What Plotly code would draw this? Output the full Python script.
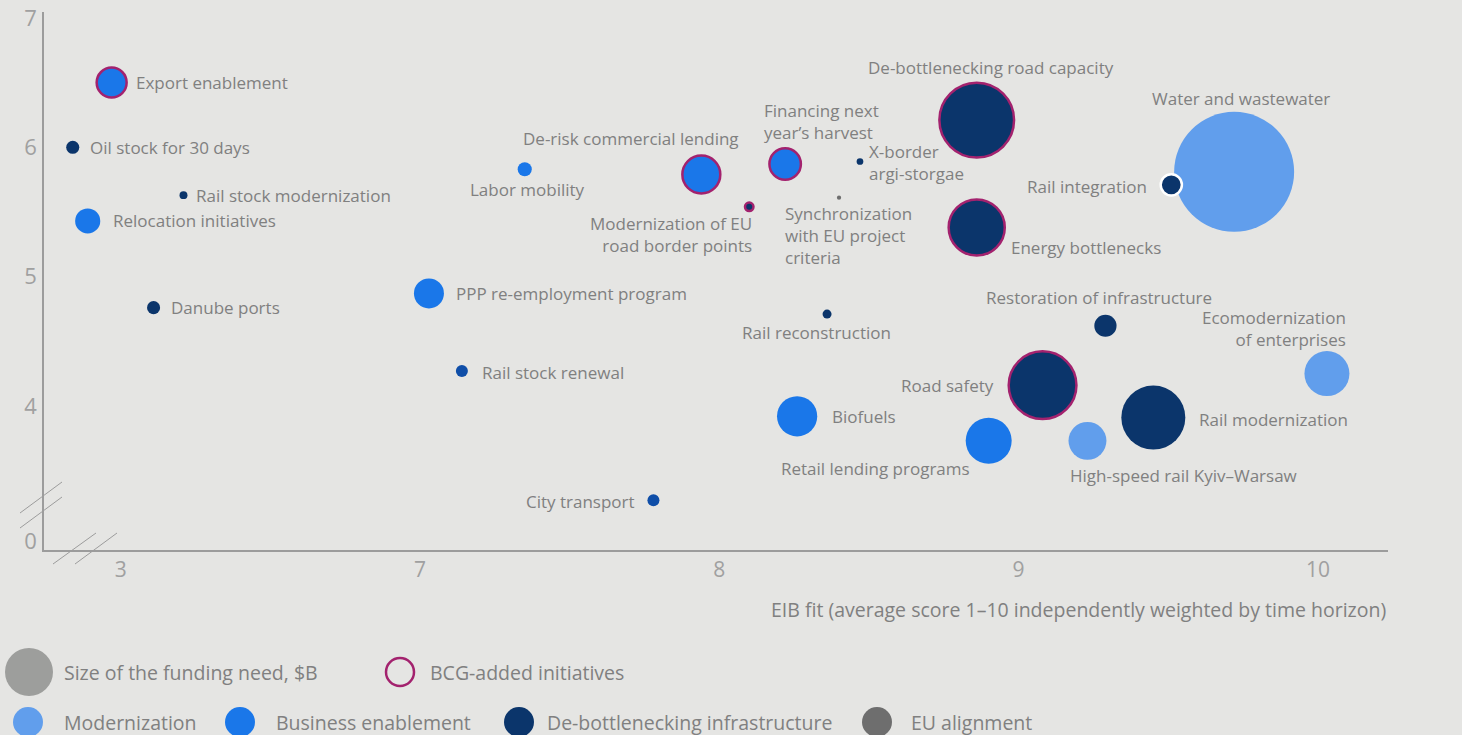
import math
import plotly.graph_objects as go

# ---------------- data ----------------
names = [
    "Water and wastewater", "Export enablement", "Oil stock for 30 days",
    "Rail stock modernization", "Relocation initiatives", "Danube ports",
    "PPP re-employment program", "Rail stock renewal", "Labor mobility",
    "De-risk commercial lending", "Modernization of EU<br>road border points",
    "Financing next<br>year’s harvest", "X-border<br>argi-storgae",
    "Synchronization<br>with EU project<br>criteria", "Rail reconstruction",
    "De-bottlenecking road capacity", "Energy bottlenecks", "Rail integration",
    "Procurement<br>guidelines", "Restoration of infrastructure",
    "Ecomodernization<br>of enterprises", "Road safety", "Biofuels",
    "Retail lending programs", "High-speed rail Kyiv–Warsaw",
    "Rail modernization", "City transport",
]
eib_fit = [9.72, 2.97, 2.84, 3.21, 2.89, 3.11, 7.03, 7.14, 7.35, 7.94, 8.10,
           8.22, 8.47, 8.40, 8.36, 8.86, 8.86, 9.51, 10.24, 9.29, 10.03, 9.08,
           8.26, 8.90, 9.23, 9.45, 7.78]
score = [5.81, 6.50, 6.00, 5.63, 5.43, 4.76, 4.87, 4.27, 5.83, 5.79, 5.54,
         5.87, 5.89, 5.61, 4.71, 6.21, 5.38, 5.71, 5.65, 4.62, 4.25, 4.16,
         3.92, 3.73, 3.73, 3.91, 3.27]
funding_bn = [16.0, 1.0, 0.19, 0.07, 0.7, 0.19, 1.0, 0.16, 0.22, 1.6, 0.08,
              1.1, 0.05, 0.02, 0.09, 6.2, 3.5, 0.5, 0.02, 0.55, 2.25, 5.1,
              1.8, 2.35, 1.6, 4.55, 0.16]
category = ["Modernization", "Business enablement", "De-bottlenecking infrastructure",
            "De-bottlenecking infrastructure", "Business enablement",
            "De-bottlenecking infrastructure", "Business enablement", "Transport renewal",
            "Business enablement", "Business enablement", "De-bottlenecking infrastructure",
            "Business enablement", "De-bottlenecking infrastructure", "EU alignment",
            "De-bottlenecking infrastructure", "De-bottlenecking infrastructure",
            "De-bottlenecking infrastructure", "De-bottlenecking infrastructure",
            "Modernization", "De-bottlenecking infrastructure", "Modernization",
            "De-bottlenecking infrastructure", "Business enablement",
            "Business enablement", "Modernization", "De-bottlenecking infrastructure",
            "Transport renewal"]
bcg_added = [False, True, False, False, False, False, False, False, False, True, True,
             True, False, False, False, True, True, False, False, False, False, True,
             False, False, False, False, False]
highlight_white = ["Rail integration"]

x_ticks = [3, 7, 8, 9, 10]
y_ticks = [0, 4, 5, 6, 7]
legend_categories = ["Modernization", "Business enablement",
                     "De-bottlenecking infrastructure", "EU alignment"]
x_title = "EIB fit (average score 1–10 independently weighted by time horizon)"

# ---------------- styles ----------------
BG = "#e5e5e3"
TXT = "#808080"
AX = "#9c9c9c"
PURPLE = "#a3226e"
COLORS = {
    "Modernization": "#619eec",
    "Business enablement": "#1a77e9",
    "De-bottlenecking infrastructure": "#0b356b",
    "EU alignment": "#6e6e6e",
    "Transport renewal": "#0f4ea8",
}
FONT = "Open Sans"
SCALE = 30.0  # px diameter per sqrt($B)


def xdisp(v):
    # broken x axis: values below 5 are shifted so that 3 sits one unit left of 7
    return v + 3 if v < 5 else v


def ydisp(v):
    # broken y axis: 0 sits just below 3
    return 2.956 if v == 0 else v


# label placement: (xanchor, xshift, yshift, align)
place = {
    "Water and wastewater": ("center", 7, 73, "center"),
    "Export enablement": ("left", 22, 0, "left"),
    "Oil stock for 30 days": ("left", 15, 0, "left"),
    "Rail stock modernization": ("left", 11, 0, "left"),
    "Relocation initiatives": ("left", 23, 0, "left"),
    "Danube ports": ("left", 15, 0, "left"),
    "PPP re-employment program": ("left", 25, 0, "left"),
    "Rail stock renewal": ("left", 18, -1, "left"),
    "Labor mobility": ("center", 3, -20, "center"),
    "De-risk commercial lending": ("right", 40, 36, "right"),
    "Modernization of EU<br>road border points": ("right", 5, -28, "right"),
    "Financing next<br>year’s harvest": ("left", -23, 43, "left"),
    "X-border<br>argi-storgae": ("left", 7, -1, "left"),
    "Synchronization<br>with EU project<br>criteria": ("left", -56, -38, "left"),
    "Rail reconstruction": ("center", -11, -18, "center"),
    "De-bottlenecking road capacity": ("center", 14, 53, "center"),
    "Energy bottlenecks": ("left", 32, -20, "left"),
    "Rail integration": ("right", -22, -2, "right"),
    "Procurement<br>guidelines": ("left", -50, 27, "left"),
    "Restoration of infrastructure": ("center", -6, 28, "center"),
    "Ecomodernization<br>of enterprises": ("right", 21, 45, "right"),
    "Road safety": ("right", -47, 0, "right"),
    "Biofuels": ("left", 33, 0, "left"),
    "Retail lending programs": ("center", -113, -28, "center"),
    "High-speed rail Kyiv–Warsaw": ("left", -19, -35, "left"),
    "Rail modernization": ("left", 44, -2, "left"),
    "City transport": ("right", -16, -1, "right"),
}

xs = [xdisp(v) for v in eib_fit]
sizes = [SCALE * math.sqrt(f) for f in funding_bn]
colors = [COLORS[c] for c in category]
line_colors = []
line_widths = []
for n, b in zip(names, bcg_added):
    if b:
        line_colors.append(PURPLE)
        line_widths.append(2.5)
    elif n in highlight_white:
        line_colors.append("#ffffff")
        line_widths.append(2.5)
    else:
        line_colors.append("rgba(0,0,0,0)")
        line_widths.append(0)

fig = go.Figure()
fig.add_trace(go.Scatter(
    x=xs, y=score, mode="markers", text=names, hoverinfo="text",
    cliponaxis=False,
    marker=dict(size=sizes, sizemode="diameter", color=colors, opacity=1,
                line=dict(color=line_colors, width=line_widths)),
))

annotations = []
for n, x, y in zip(names, xs, score):
    xa, xsft, ysft, al = place[n]
    annotations.append(dict(x=x, y=y, xref="x", yref="y", text=n, showarrow=False,
                            xanchor=xa, yanchor="middle", xshift=xsft, yshift=ysft,
                            align=al, font=dict(family=FONT, size=17, color=TXT)))

# plot area in px: left 44, right 1388, top 12, bottom 550
L, R, T, B = 44, 1388, 12, 550


def px(xp):
    return (xp - L) / (R - L)


def py(yp):
    return (B - yp) / (B - T)


annotations.append(dict(x=1, y=py(609), xref="paper", yref="paper", text=x_title,
                        showarrow=False, xanchor="right", yanchor="middle",
                        font=dict(family=FONT, size=19.5, color=TXT)))

shapes = []
# axis break marks
for (x0, y0, x1, y1) in [(20, 513, 62, 482), (20, 528, 62, 497),
                         (53, 564, 96, 533), (75, 564, 117, 533)]:
    shapes.append(dict(type="line", xref="paper", yref="paper",
                       x0=px(x0), y0=py(y0), x1=px(x1), y1=py(y1),
                       line=dict(color=AX, width=1)))


# legend
def circle(cx, cy, d, fill, line_color=None, lw=0):
    return dict(type="circle", xref="paper", yref="paper",
                x0=px(cx - d / 2), x1=px(cx + d / 2), y0=py(cy + d / 2), y1=py(cy - d / 2),
                fillcolor=fill, line=dict(color=line_color or fill, width=lw))


shapes.append(circle(29, 672, 48, "#9d9e9c"))
shapes.append(circle(400, 672, 28, "rgba(0,0,0,0)", PURPLE, 2.5))
legend_text = [("Size of the funding need, $B", 62, 672), ("BCG-added initiatives", 428, 672)]
for cat, cx, tx in zip(legend_categories, [28, 240, 519, 877], [62, 274, 545, 909]):
    shapes.append(circle(cx, 722, 30, COLORS[cat]))
    legend_text.append((cat, tx, 722))
for t, tx, ty in legend_text:
    annotations.append(dict(x=px(tx), y=py(ty), xref="paper", yref="paper", text=t,
                            showarrow=False, xanchor="left", yanchor="middle",
                            font=dict(family=FONT, size=19.5, color=TXT)))

fig.update_layout(
    width=1462, height=735, autosize=False,
    margin=dict(l=L, r=1462 - R, t=T, b=735 - B, pad=0),
    paper_bgcolor=BG, plot_bgcolor=BG, showlegend=False,
    font=dict(family=FONT, color=TXT),
    annotations=annotations, shapes=shapes,
)
fig.update_xaxes(range=[5.744, 10.234], tickvals=[xdisp(v) for v in x_ticks],
                 ticktext=[str(v) for v in x_ticks], showgrid=False, zeroline=False,
                 showline=True, linecolor=AX, linewidth=1.5, ticks="", automargin=False,
                 tickfont=dict(family=FONT, size=21, color="#a0a0a0"))
fig.update_yaxes(range=[2.886, 7.046], tickvals=[ydisp(v) for v in y_ticks],
                 ticktext=[str(v) for v in y_ticks], showgrid=False, zeroline=False,
                 showline=True, linecolor=AX, linewidth=1.5, ticks="", automargin=False,
                 ticklabelstandoff=1,
                 tickfont=dict(family=FONT, size=22, color="#a0a0a0"))

fig.write_html("out.html", config={"displayModeBar": False},
               post_script="document.body.style.margin='0';document.body.style.overflow='hidden';")
